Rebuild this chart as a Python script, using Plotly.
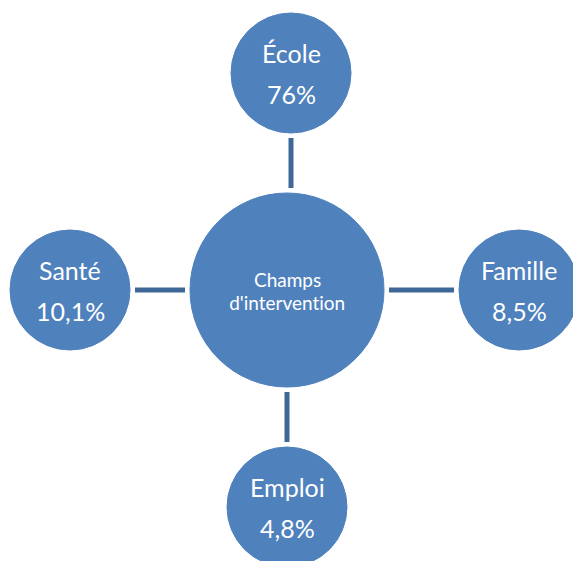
import plotly.graph_objects as go

# ---- data ----
center_label = ["Champs", "d'intervention"]
categories = ["École", "Famille", "Emploi", "Santé"]
values = [76, 8.5, 4.8, 10.1]

# ---- layout geometry (pixel-like data coordinates) ----
W, H = 573, 561
center_pos = (287, 290)
center_r = 97
node_pos = {"École": (291, 73), "Famille": (519, 290), "Emploi": (287, 507), "Santé": (70, 290)}
node_r = 60
gap = 5

fill = "#4F81BD"
conn = "#3F6797"
font_family = "Lato, 'Open Sans', sans-serif"

def fmt(v):
    s = ("%g" % v).replace(".", ",")
    return s + "%"

shapes = []
annotations = []

# connectors
for cat in categories:
    nx, ny = node_pos[cat]
    cx, cy = center_pos
    dx, dy = nx - cx, ny - cy
    d = (dx ** 2 + dy ** 2) ** 0.5
    ux, uy = dx / d, dy / d
    x0, y0 = cx + ux * (center_r + gap), cy + uy * (center_r + gap)
    x1, y1 = nx - ux * (node_r + gap), ny - uy * (node_r + gap)
    if abs(dx) < abs(dy):
        x0 = x1 = nx if abs(nx - cx) < 6 else x0
    shapes.append(dict(type="line", xref="x", yref="y", x0=x0, y0=y0, x1=x1, y1=y1,
                       line=dict(color=conn, width=5)))

# center circle
cx, cy = center_pos
shapes.append(dict(type="circle", xref="x", yref="y",
                   x0=cx - center_r, x1=cx + center_r, y0=cy - center_r, y1=cy + center_r,
                   fillcolor=fill, line=dict(color=fill, width=1)))
annotations.append(dict(x=cx, y=cy - 11, xref="x", yref="y", text=center_label[0], showarrow=False,
                        font=dict(family=font_family, size=19, color="white")))
annotations.append(dict(x=cx, y=cy + 12, xref="x", yref="y", text=center_label[1], showarrow=False,
                        font=dict(family=font_family, size=19, color="white")))

# satellite circles
for cat, val in zip(categories, values):
    nx, ny = node_pos[cat]
    shapes.append(dict(type="circle", xref="x", yref="y",
                       x0=nx - node_r, x1=nx + node_r, y0=ny - node_r, y1=ny + node_r,
                       fillcolor=fill, line=dict(color=fill, width=1)))
    annotations.append(dict(x=nx, y=ny - 20, xref="x", yref="y", text=cat, showarrow=False,
                            font=dict(family=font_family, size=25, color="white")))
    annotations.append(dict(x=nx, y=ny + 21, xref="x", yref="y", text=fmt(val), showarrow=False,
                            font=dict(family=font_family, size=25, color="white")))

fig = go.Figure()
fig.add_trace(go.Scatter(x=[0, W], y=[0, H], mode="markers", marker=dict(opacity=0),
                         hoverinfo="skip", showlegend=False))
fig.update_layout(
    width=W, height=H, margin=dict(l=0, r=0, t=0, b=0),
    paper_bgcolor="white", plot_bgcolor="white",
    xaxis=dict(range=[0, W], visible=False, fixedrange=True),
    yaxis=dict(range=[H, 0], visible=False, fixedrange=True),
    shapes=shapes, annotations=annotations, showlegend=False,
)
post = (
    "document.body.style.margin='0px';"
    "document.body.style.overflow='hidden';"
    "var st=document.createElement('style');"
    "st.textContent='text{font-variant-ligatures:none;font-feature-settings:\"liga\" 0;}';"
    "document.head.appendChild(st);"
)
fig.write_html("out.html", config={"displayModeBar": False}, post_script=post)
